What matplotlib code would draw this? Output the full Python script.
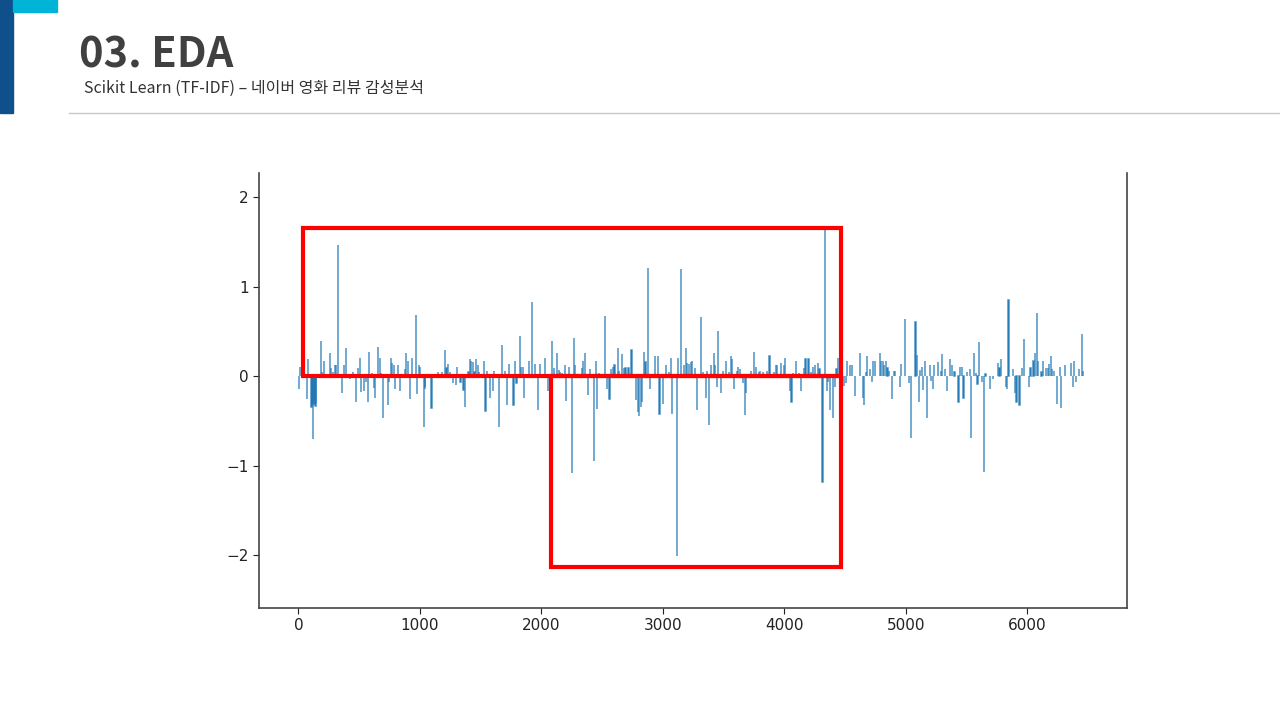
import matplotlib.pyplot as plt
from matplotlib.patches import Rectangle

# coefficient index / value pairs (all other coefs ~0)
coef_index = [
    3, 16, 68, 80, 107, 112, 116, 121, 126, 130, 134, 140, 148, 183, 195, 211, 260, 271, 287, 301,
    312, 323, 362, 376, 389, 425, 452, 477, 490, 504, 515, 542, 553, 570, 581, 605, 619, 630, 655, 669,
    683, 696, 734, 742, 759, 770, 786, 797, 822, 836, 877, 887, 900, 915, 937, 964, 978, 992, 1003, 1030,
    1039, 1044, 1095, 1150, 1178, 1206, 1219, 1233, 1246, 1271, 1296, 1307, 1334, 1359, 1372, 1400, 1411, 1424, 1435, 1449,
    1462, 1476, 1487, 1526, 1540, 1551, 1578, 1602, 1613, 1654, 1679, 1703, 1717, 1731, 1770, 1781, 1795, 1822, 1833, 1847,
    1860, 1898, 1923, 1947, 1975, 1988, 2027, 2052, 2087, 2101, 2128, 2142, 2156, 2167, 2191, 2205, 2230, 2254, 2268, 2279,
    2331, 2345, 2358, 2383, 2397, 2435, 2449, 2460, 2473, 2525, 2537, 2561, 2575, 2588, 2602, 2627, 2640, 2665, 2678, 2692,
    2717, 2742, 2780, 2794, 2807, 2818, 2829, 2843, 2857, 2881, 2895, 2933, 2958, 2972, 2999, 3024, 3052, 3065, 3076, 3114,
    3125, 3150, 3177, 3188, 3202, 3216, 3229, 3237, 3265, 3279, 3314, 3328, 3352, 3366, 3380, 3394, 3418, 3430, 3443, 3457,
    3482, 3493, 3520, 3545, 3558, 3569, 3583, 3607, 3621, 3635, 3659, 3673, 3684, 3725, 3750, 3764, 3788, 3802, 3826, 3854,
    3878, 3917, 3930, 3941, 3969, 3994, 4008, 4046, 4059, 4070, 4097, 4122, 4136, 4160, 4174, 4199, 4223, 4237, 4251, 4276,
    4289, 4314, 4338, 4352, 4363, 4377, 4404, 4415, 4429, 4440, 4492, 4506, 4517, 4544, 4555, 4582, 4621, 4646, 4656, 4670,
    4684, 4708, 4722, 4733, 4747, 4785, 4796, 4810, 4824, 4835, 4849, 4862, 4889, 4900, 4914, 4952, 4963, 4990, 5029, 5043,
    5080, 5091, 5105, 5119, 5130, 5144, 5157, 5171, 5196, 5210, 5223, 5234, 5262, 5286, 5300, 5324, 5338, 5363, 5377, 5401,
    5434, 5448, 5462, 5475, 5500, 5527, 5538, 5563, 5577, 5590, 5604, 5629, 5643, 5656, 5694, 5719, 5757, 5771, 5785, 5823,
    5834, 5845, 5884, 5897, 5911, 5936, 5960, 5974, 6013, 6026, 6051, 6065, 6078, 6089, 6117, 6128, 6155, 6169, 6180, 6193,
    6207, 6218, 6245, 6270, 6281, 6308, 6360, 6374, 6385, 6399, 6423, 6448, 6462,
]
coef_value = [
    -0.14, 0.10, -0.25, 0.19, -0.34, -0.33, -0.30, -0.70, -0.32, -0.28, -0.31, -0.33, -0.30, 0.39, 0.05, 0.17, 0.26, 0.09, 0.05, 0.12,
    0.12, 1.46, -0.19, 0.13, 0.31, -0.03, 0.05, -0.29, 0.09, 0.20, -0.18, -0.17, -0.07, -0.29, 0.27, 0.04, -0.13, -0.24, 0.33, 0.20,
    0.04, -0.47, -0.32, -0.06, 0.20, 0.15, 0.12, -0.14, 0.12, -0.16, 0.08, 0.26, 0.17, -0.26, 0.20, 0.68, -0.20, 0.13, 0.10, -0.57,
    -0.12, -0.14, -0.35, 0.05, 0.05, 0.29, 0.09, 0.14, 0.05, -0.08, -0.10, 0.10, -0.06, -0.15, -0.34, 0.05, 0.19, 0.17, 0.16, 0.05,
    0.19, 0.12, 0.05, 0.17, -0.39, 0.06, -0.24, -0.16, 0.06, -0.57, 0.35, 0.06, -0.32, 0.14, -0.32, 0.17, -0.08, 0.45, 0.10, 0.10,
    -0.24, 0.17, 0.83, 0.14, -0.38, 0.14, 0.20, -0.17, 0.39, 0.09, 0.26, 0.07, 0.05, 0.04, 0.13, -0.28, 0.10, -1.08, 0.43, 0.13,
    0.09, 0.17, 0.26, -0.21, 0.08, -0.95, 0.17, -0.37, 0.04, 0.67, -0.14, -0.26, 0.08, 0.10, 0.13, 0.31, 0.06, 0.25, 0.09, 0.09,
    0.09, 0.29, -0.27, -0.40, -0.44, -0.34, -0.29, 0.27, 0.16, 1.21, -0.14, 0.23, 0.23, -0.42, -0.31, 0.12, 0.05, 0.20, -0.42, -2.01,
    0.20, 1.20, 0.12, 0.31, 0.15, 0.14, 0.16, 0.17, 0.09, -0.38, 0.66, 0.05, -0.24, 0.06, -0.54, 0.12, 0.26, 0.13, -0.12, 0.50,
    -0.19, 0.06, 0.17, 0.05, 0.23, 0.19, -0.14, 0.06, 0.10, 0.08, -0.08, -0.43, -0.19, 0.06, 0.27, 0.10, 0.05, 0.06, 0.05, 0.06,
    0.23, 0.05, 0.13, 0.12, 0.15, 0.12, 0.20, -0.16, -0.29, 0.04, 0.17, 0.04, -0.17, 0.09, 0.19, 0.19, 0.05, 0.10, 0.12, 0.15,
    0.08, -1.18, 1.64, -0.17, -0.06, -0.38, -0.47, -0.12, 0.08, 0.20, -0.11, -0.08, 0.17, 0.13, 0.12, -0.22, 0.26, -0.24, -0.32, 0.05,
    0.22, 0.08, -0.06, 0.17, 0.17, 0.26, 0.17, 0.17, 0.13, 0.17, 0.09, 0.06, -0.26, 0.06, 0.06, -0.12, 0.14, 0.64, -0.08, -0.69,
    0.61, 0.24, -0.29, 0.07, 0.10, -0.15, 0.17, -0.47, 0.12, -0.05, -0.14, 0.12, 0.16, 0.06, 0.25, 0.08, -0.16, 0.19, 0.13, 0.05,
    -0.29, 0.10, 0.10, -0.24, 0.05, 0.08, -0.69, 0.26, 0.04, -0.09, 0.38, -0.06, -1.07, 0.02, -0.14, -0.03, 0.15, 0.09, 0.19, -0.12,
    -0.14, 0.85, 0.08, -0.19, -0.29, -0.32, 0.09, 0.41, -0.12, 0.09, 0.17, 0.26, 0.71, 0.17, 0.05, 0.17, 0.09, 0.09, 0.14, 0.22,
    0.08, 0.06, -0.31, 0.10, -0.36, 0.12, 0.15, -0.12, 0.17, -0.06, 0.08, 0.47, 0.06,
]
n_features = 6496

# highlighted regions (red boxes): (x0, x1, y0, y1) in data units
pos_box = (41, 4470, 0.0, 1.65)
neg_box = (2079, 4470, -2.13, 0.0)

plt.rcParams['font.family'] = ['DejaVu Sans']
kr_font = ['Noto Sans CJK KR', 'DejaVu Sans']

fig = plt.figure(figsize=(12.8, 7.2), dpi=100)

# slide header decorations
fig.patches.append(Rectangle((0, 1 - 113 / 720), 13 / 1280, 113 / 720,
                             transform=fig.transFigure, color='#0e4f8c', zorder=0))
fig.patches.append(Rectangle((13 / 1280, 1 - 12 / 720), 44 / 1280, 12 / 720,
                             transform=fig.transFigure, color='#00b4d8', zorder=0))
fig.add_artist(plt.Line2D([69 / 1280, 1.0], [1 - 113 / 720] * 2,
                          transform=fig.transFigure, color='#c8c8c8', lw=1))
fig.text(79 / 1280, 1 - 68 / 720, '03. EDA', fontsize=30, fontweight='bold',
         family=kr_font, color='#404040', va='baseline')
fig.text(84 / 1280, 1 - 88 / 720, 'Scikit Learn (TF-IDF) \u2013 네이버 영화 리뷰 감성분석',
         fontsize=11.5, family=kr_font, color='#333333', va='center')

ax = fig.add_axes([259 / 1280, 1 - 608 / 720, (1127 - 259) / 1280, (608 - 173) / 720])
ax.bar(coef_index, coef_value, width=0.8, color='#1f77b4', edgecolor='#1f77b4',
       linewidth=1.1, alpha=0.8)

for x0, x1, y0, y1 in (pos_box, neg_box):
    ax.add_patch(Rectangle((x0, y0), x1 - x0, y1 - y0, fill=False,
                           edgecolor='#ff0000', linewidth=3, zorder=5, clip_on=False))

ax.set_xlim(-0.05 * n_features, n_features * 1.05)
ax.set_ylim(-2.59, 2.27)
ax.set_xticks(range(0, 7000, 1000))
ax.set_yticks([-2, -1, 0, 1, 2])
ax.tick_params(labelsize=11, colors='#222222', length=4)
ax.spines['top'].set_visible(False)
for s in ('left', 'bottom', 'right'):
    ax.spines[s].set_color('#444444')
    ax.spines[s].set_linewidth(1.2)

fig.savefig('out.png', dpi=100)
